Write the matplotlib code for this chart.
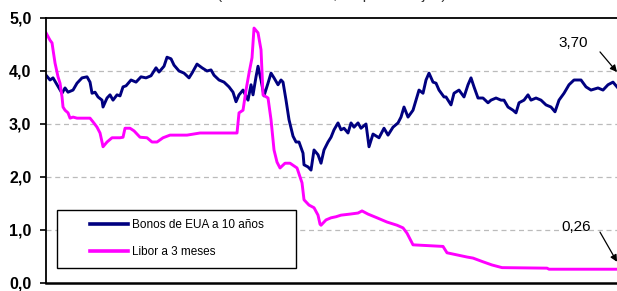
import matplotlib
matplotlib.use("Agg")
import matplotlib.pyplot as plt
from matplotlib.patches import Rectangle

plt.rcParams['font.family'] = ['Liberation Sans', 'DejaVu Sans']

# posicion en el periodo (0 = inicio, 571 = ultimo dato)
t_bonos = [0, 4, 7, 11, 14, 16, 19, 22, 27, 31, 36, 41, 44, 46, 49, 52, 56, 57, 61, 64,
           67, 71, 74, 77, 80, 85, 90, 95, 100, 105, 110, 113, 118, 121, 125, 128, 133, 138,
           143, 146, 151, 156, 161, 165, 168, 173, 178, 183, 187, 190, 193, 197, 202, 205,
           207, 210, 212, 215, 218, 222, 225, 228, 232, 235, 237, 240, 243, 247, 250, 253,
           257, 258, 262, 265, 268, 272, 275, 278, 282, 285, 288, 292, 295, 298, 302, 305,
           308, 312, 315, 320, 323, 327, 333, 338, 342, 347, 352, 355, 358, 362, 367, 370,
           373, 377, 380, 383, 387, 390, 393, 398, 400, 405, 408, 413, 418, 422, 425, 428,
           432, 437, 442, 445, 450, 455, 458, 462, 467, 470, 473, 478, 482, 485, 490, 495,
           500, 505, 509, 513, 518, 523, 528, 535, 540, 545, 552, 557, 562, 567, 571]
bonos = [3.92, 3.83, 3.87, 3.74, 3.64, 3.58, 3.68, 3.60, 3.64, 3.77, 3.87, 3.89, 3.79, 3.58,
         3.60, 3.51, 3.45, 3.32, 3.49, 3.55, 3.45, 3.55, 3.53, 3.70, 3.72, 3.83, 3.79, 3.89,
         3.87, 3.91, 4.06, 3.98, 4.09, 4.26, 4.23, 4.11, 4.00, 3.96, 3.87, 3.96, 4.13, 4.06,
         4.00, 4.02, 3.92, 3.83, 3.79, 3.70, 3.60, 3.42, 3.55, 3.64, 3.45, 3.74, 3.55, 3.89,
         4.09, 3.83, 3.53, 3.77, 3.96, 3.87, 3.74, 3.83, 3.79, 3.45, 3.08, 2.77, 2.66, 2.66,
         2.45, 2.23, 2.19, 2.13, 2.51, 2.42, 2.26, 2.51, 2.66, 2.75, 2.89, 3.02, 2.89, 2.92,
         2.83, 3.02, 2.94, 3.02, 2.92, 3.00, 2.57, 2.81, 2.74, 2.92, 2.79, 2.94, 3.02, 3.13,
         3.32, 3.13, 3.26, 3.45, 3.64, 3.58, 3.83, 3.96, 3.79, 3.77, 3.64, 3.51, 3.51, 3.36,
         3.58, 3.64, 3.51, 3.74, 3.87, 3.70, 3.49, 3.49, 3.40, 3.45, 3.49, 3.45, 3.45, 3.32,
         3.26, 3.21, 3.40, 3.45, 3.55, 3.45, 3.49, 3.45, 3.36, 3.32, 3.23, 3.45, 3.58, 3.74,
         3.83, 3.83, 3.70, 3.64, 3.68, 3.64, 3.74, 3.79, 3.70]

t_libor = [0, 4, 6, 7, 9, 12, 14, 16, 17, 19, 22, 24, 27, 31, 37, 44, 47, 51, 54, 56, 57,
           61, 66, 74, 77, 79, 84, 88, 91, 94, 101, 106, 111, 117, 124, 141, 154, 191, 193,
           197, 200, 203, 206, 208, 212, 215, 217, 222, 225, 228, 231, 234, 239, 244, 251,
           256, 258, 263, 268, 272, 274, 275, 280, 285, 290, 295, 304, 312, 316, 322, 331,
           341, 351, 357, 361, 367, 397, 401, 411, 421, 427, 437, 446, 456, 501, 503, 571]
libor = [4.72, 4.58, 4.53, 4.40, 4.15, 3.89, 3.77, 3.51, 3.32, 3.26, 3.21, 3.11, 3.13, 3.11,
         3.11, 3.11, 3.04, 2.94, 2.83, 2.66, 2.57, 2.66, 2.74, 2.74, 2.75, 2.92, 2.92, 2.87,
         2.81, 2.75, 2.74, 2.66, 2.66, 2.74, 2.79, 2.79, 2.83, 2.83, 3.21, 3.26, 3.64, 3.96,
         4.25, 4.81, 4.72, 4.40, 3.55, 3.49, 3.08, 2.51, 2.28, 2.17, 2.26, 2.26, 2.17, 1.89,
         1.57, 1.47, 1.42, 1.28, 1.11, 1.09, 1.19, 1.23, 1.25, 1.28, 1.30, 1.32, 1.36, 1.30,
         1.23, 1.15, 1.09, 1.04, 0.94, 0.72, 0.69, 0.57, 0.53, 0.49, 0.47, 0.40, 0.34, 0.29,
         0.28, 0.26, 0.26]

series_names = ['Bonos de EUA a 10 años', 'Libor a 3 meses']
series_colors = ['#000080', '#FF00FF']
y_ticks = [0, 1, 2, 3, 4, 5]
y_ticklabels = ['0,0', '1,0', '2,0', '3,0', '4,0', '5,0']
label_bonos = '3,70'
label_libor = '0,26'

fig = plt.figure(figsize=(6.17, 2.91), dpi=100)
ax = fig.add_axes([0.0746, 0.0275, 0.9254, 0.9107])

ax.plot(t_bonos, bonos, color=series_colors[0], lw=2.1, label=series_names[0],
        solid_joinstyle='round')
ax.plot(t_libor, libor, color=series_colors[1], lw=2.1, label=series_names[1],
        solid_joinstyle='round')

ax.set_xlim(0, 571)
ax.set_ylim(0, 5)
ax.set_yticks(y_ticks)
ax.set_yticklabels(y_ticklabels, fontsize=11.5, fontweight='bold')
ax.set_xticks([])
ax.tick_params(axis='y', length=4.5, width=1.2, pad=6)
for gy in y_ticks[1:-1]:
    ax.axhline(gy, color='#BBBBBB', lw=0.9, ls=(0, (4, 3)), zorder=0)

ax.spines['right'].set_visible(False)
for s in ['left', 'top', 'bottom']:
    ax.spines[s].set_color('black')
ax.spines['left'].set_linewidth(1.3)
ax.spines['top'].set_linewidth(1.3)
ax.spines['bottom'].set_linewidth(1.8)

# recuadro de la leyenda
ax.add_patch(Rectangle((0.019, 0.057), 0.419, 0.218, transform=ax.transAxes,
                       facecolor='white', edgecolor='black', lw=1.0, zorder=4))
leg = ax.legend(loc='center left', bbox_to_anchor=(0.077, 0.168), frameon=False,
                fontsize=8.5, handlelength=3.2, handletextpad=0.4, labelspacing=1.25,
                borderpad=0, borderaxespad=0)
leg.set_zorder(5)
for h in leg.get_lines():
    h.set_linewidth(2.6)

# etiquetas del ultimo dato
ax.text(527, 4.53, label_bonos, fontsize=11, ha='center', va='center')
ax.annotate('', xy=(571, 3.98), xytext=(554, 4.36),
            arrowprops=dict(arrowstyle='-|>', color='black', lw=0.9,
                            mutation_scale=10, shrinkA=0, shrinkB=0),
            annotation_clip=False)
ax.text(530, 1.06, label_libor, fontsize=11, ha='center', va='center')
ax.annotate('', xy=(571, 0.40), xytext=(554, 0.96),
            arrowprops=dict(arrowstyle='-|>', color='black', lw=0.9,
                            mutation_scale=10, shrinkA=0, shrinkB=0),
            annotation_clip=False)

# subtitulo (cortado en el borde superior, como en el original)
fig.text(0.538, 1.002, '(Tasas de interés, en porcentajes)', fontsize=11,
         ha='center', va='baseline', color='#333333')

fig.savefig('out.png', dpi=100)
